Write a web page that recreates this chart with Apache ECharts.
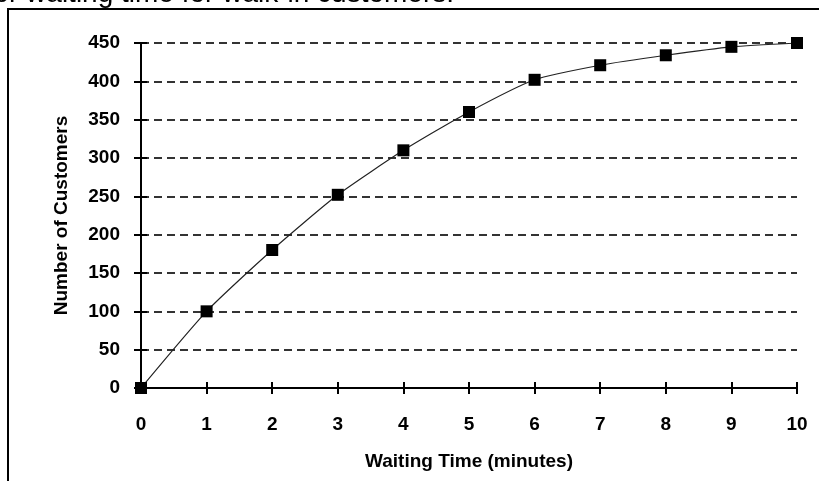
<!DOCTYPE html>
<html><head><meta charset="utf-8">
<script src="https://cdn.jsdelivr.net/npm/echarts@6/dist/echarts.min.js"></script>
<style>html,body{margin:0;padding:0;background:#fff}#c{width:819px;height:481px}</style>
</head><body><div id="c"></div>
<script>
const titleText = "Ogive for waiting time for walk-in customers.";
const xName = "Waiting Time (minutes)";
const yName = "Number of Customers";
const waitMinutes = [0, 1, 2, 3, 4, 5, 6, 7, 8, 9, 10];
const customers = [0, 100, 180, 252, 310, 360, 402, 421, 434, 445, 450];

const chart = echarts.init(document.getElementById('c'), null, {renderer: 'canvas'});
const font = 'Arial, "Liberation Sans", sans-serif';
const pts = waitMinutes.map((x, i) => [x, customers[i]]);
chart.setOption({
  animation: false,
  backgroundColor: '#fff',
  graphic: [
    {type: 'rect', shape: {x: 8, y: 9, width: 900, height: 600}, style: {fill: 'none', stroke: '#000', lineWidth: 2}, z: 0},
    {type: 'text', x: 454, y: 8, style: {text: titleText, font: '28px ' + font, fill: '#000', textAlign: 'right', textVerticalAlign: 'bottom'}}
  ],
  grid: {left: 141, right: 22, top: 43, bottom: 93},
  xAxis: [{
    type: 'value', min: 0, max: 10, interval: 1,
    name: xName, nameLocation: 'middle', nameGap: 64,
    nameTextStyle: {fontFamily: font, fontWeight: 'bold', fontSize: 19, color: '#000'},
    axisLine: {lineStyle: {color: '#000', width: 2}},
    axisTick: {show: true, length: 6, lineStyle: {color: '#000', width: 2}},
    axisLabel: {margin: 27, fontFamily: font, fontWeight: 'bold', fontSize: 19, color: '#000'},
    splitLine: {show: false}
  }, {
    type: 'value', min: 0, max: 10, interval: 1, position: 'bottom',
    axisLine: {show: false},
    axisTick: {show: true, inside: true, length: 6, lineStyle: {color: '#000', width: 2}},
    axisLabel: {show: false}, splitLine: {show: false}
  }],
  yAxis: [{
    type: 'value', min: 0, max: 450, interval: 50,
    name: yName, nameLocation: 'middle', nameGap: 70,
    nameTextStyle: {fontFamily: font, fontWeight: 'bold', fontSize: 19, color: '#000'},
    axisLine: {show: true, lineStyle: {color: '#000', width: 2}},
    axisTick: {show: true, length: 7, lineStyle: {color: '#000', width: 2}},
    axisLabel: {margin: 21, fontFamily: font, fontWeight: 'bold', fontSize: 19, color: '#000'},
    splitLine: {show: true, lineStyle: {color: '#333', width: 2, type: [8, 5]}}
  }, {
    type: 'value', min: 0, max: 450, interval: 50, position: 'left',
    axisLine: {show: false},
    axisTick: {show: true, inside: true, length: 6, lineStyle: {color: '#000', width: 2}},
    axisLabel: {show: false}, splitLine: {show: false}
  }],
  series: [{
    type: 'line', data: pts, smooth: 0.2,
    symbol: 'rect', symbolSize: 12,
    itemStyle: {color: '#000'},
    lineStyle: {color: '#222', width: 1.2},
    z: 5
  }]
});
</script></body></html>
